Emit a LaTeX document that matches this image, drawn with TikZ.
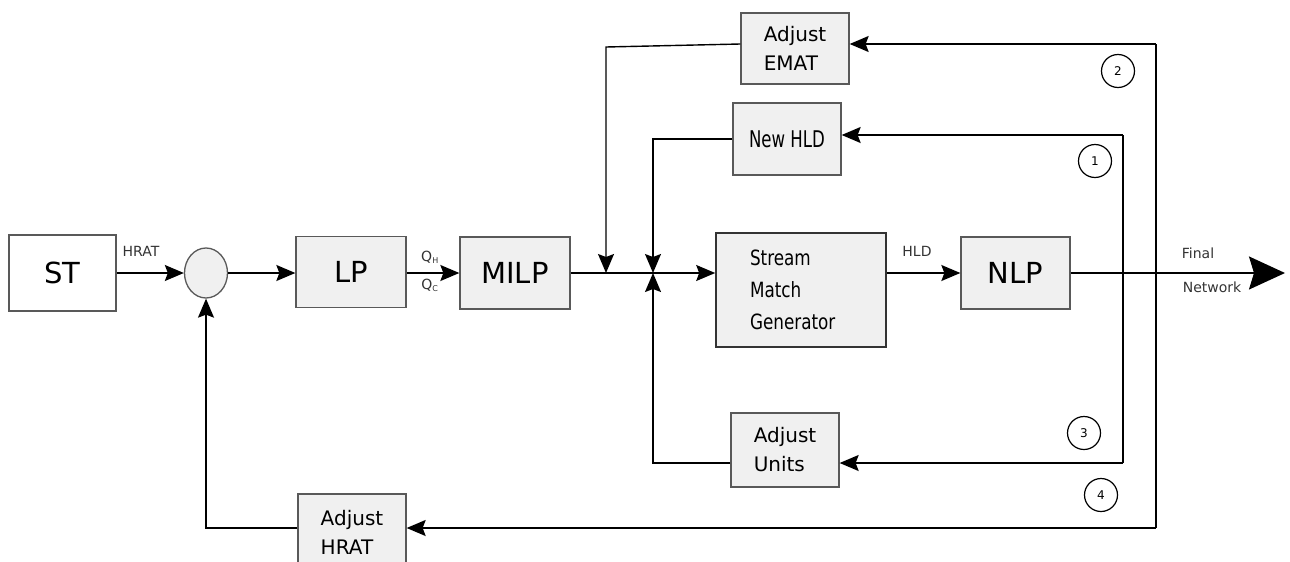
\documentclass[tikz,border=0pt]{standalone}
\usepackage{fontspec}
\usepackage{graphicx}
\setmainfont{DejaVu Sans}
\usetikzlibrary{arrows.meta,shapes.geometric}

\tikzset{
  blk/.style={draw=black!65, line width=1.3pt, fill=black!6, inner sep=0pt},
  bigtxt/.style={font=\fontsize{29}{35}\selectfont},
  adj/.style={blk, minimum width=108pt, align=left, font=\fontsize{20}{29}\selectfont},
  lbl/.style={font=\fontsize{14}{16}\selectfont, inner sep=0pt, text=black!80},
  numc/.style={draw, circle, line width=1.2pt, minimum size=33pt, inner sep=0pt, font=\fontsize{12}{14}\selectfont},
  arr/.style={line width=1.4pt, -{Stealth[length=19pt,width=16pt,inset=3pt]}},
  bigarr/.style={line width=1.8pt, -{Stealth[length=36pt,width=33pt,inset=5pt]}},
  ln/.style={line width=1.4pt}
}

\begin{document}
\begin{tikzpicture}[x=1pt,y=-1pt]
\useasboundingbox (0,0) rectangle (1290,562);
\clip (0,0) rectangle (1290,562);

% forward chain
\node[blk, fill=white, minimum width=107pt, minimum height=76pt, bigtxt] (st) at (62.5,273) {ST};
\node[draw=black!65, line width=1.3pt, fill=black!6, ellipse, minimum width=43pt, minimum height=50pt, inner sep=0pt] (sum) at (206,273) {};
\node[blk, minimum width=110pt, minimum height=71pt, bigtxt] (lp) at (351,272) {LP};
\node[blk, minimum width=110pt, minimum height=72pt, bigtxt] (milp) at (515,273) {MILP};
\node[blk, draw=black!80, line width=1.6pt, minimum height=114pt, text width=102pt, inner xsep=34pt, align=left,
      font=\fontsize{21}{32}\selectfont] (smg) at (801,290)
      {\scalebox{0.8}[1]{Stream}\\\scalebox{0.8}[1]{Match}\\\scalebox{0.8}[1]{Generator}};
\node[blk, minimum width=109pt, minimum height=72pt, bigtxt] (nlp) at (1015.5,273) {NLP};

% adjustment blocks
\node[adj, minimum height=71pt] (emat) at (795,48.5) {Adjust\\EMAT};
\node[blk, minimum width=108pt, minimum height=72pt, font=\fontsize{23}{27}\selectfont] (newhld) at (787,139) {\scalebox{0.72}[1]{New HLD}};
\node[adj, minimum height=74pt] (units) at (785,450) {Adjust\\Units};
\node[adj, minimum height=76pt] (hrat) at (352,532) {Adjust\\HRAT};

% small labels
\node[lbl] (lhrat) at (141,251) {HRAT};
\node[lbl] (lqh) at (430,257) {Q\textsubscript{\fontsize{8}{9}\selectfont H}};
\node[lbl] (lqc) at (430,285) {Q\textsubscript{\fontsize{8}{9}\selectfont C}};
\node[lbl] (lhld) at (917,251) {HLD};
\node[lbl] (lfinal) at (1198,253) {Final};
\node[lbl] (lnet) at (1212,287) {Network};

% loop numbers
\node[numc] (n1) at (1095,161) {1};
\node[numc] (n2) at (1118,71) {2};
\node[numc] (n3) at (1084,433) {3};
\node[numc] (n4) at (1101,495) {4};

% junction points on the main line
\coordinate (j1) at (606,273);
\coordinate (j2) at (653,273);
% feedback rails
\coordinate (a1) at (1123,135);
\coordinate (b1) at (1123,463);
\coordinate (a2) at (1156,44);
\coordinate (b2) at (1156,528);
\coordinate (e1) at (606,47);
\coordinate (h1) at (653,139);
\coordinate (u1) at (653,463);
\coordinate (s1) at (206,528);

% forward connectors
\draw[arr] (st.east) -- (sum.west);
\draw[arr] (sum.east) -- (lp.west |- sum.east);
\draw[arr] (lp.east |- milp.west) -- (milp.west);
\draw[arr] (milp.east) -- (smg.west |- milp.east);
\draw[arr] (smg.east |- nlp.west) -- (nlp.west);
\draw[bigarr] (nlp.east) -- (1285,273);

% feedback rails
\draw[ln] (a1) -- (b1);
\draw[ln] (a2) -- (b2);
\draw[arr] (a1) -- (a1 -| newhld.east);
\draw[arr] (b1) -- (b1 -| units.east);
\draw[arr] (a2) -- (a2 -| emat.east);
\draw[arr] (b2) -- (b2 -| hrat.east);

% returns into the main line
\draw[arr] (a2 -| emat.west) -- (e1) -- (j1);
\draw[arr] (h1 -| newhld.west) -- (h1) -- (j2);
\draw[arr] (u1 -| units.west) -- (u1) -- (j2);
\draw[arr] (b2 -| hrat.west) -- (s1) -- (sum.south);
\end{tikzpicture}
\end{document}
